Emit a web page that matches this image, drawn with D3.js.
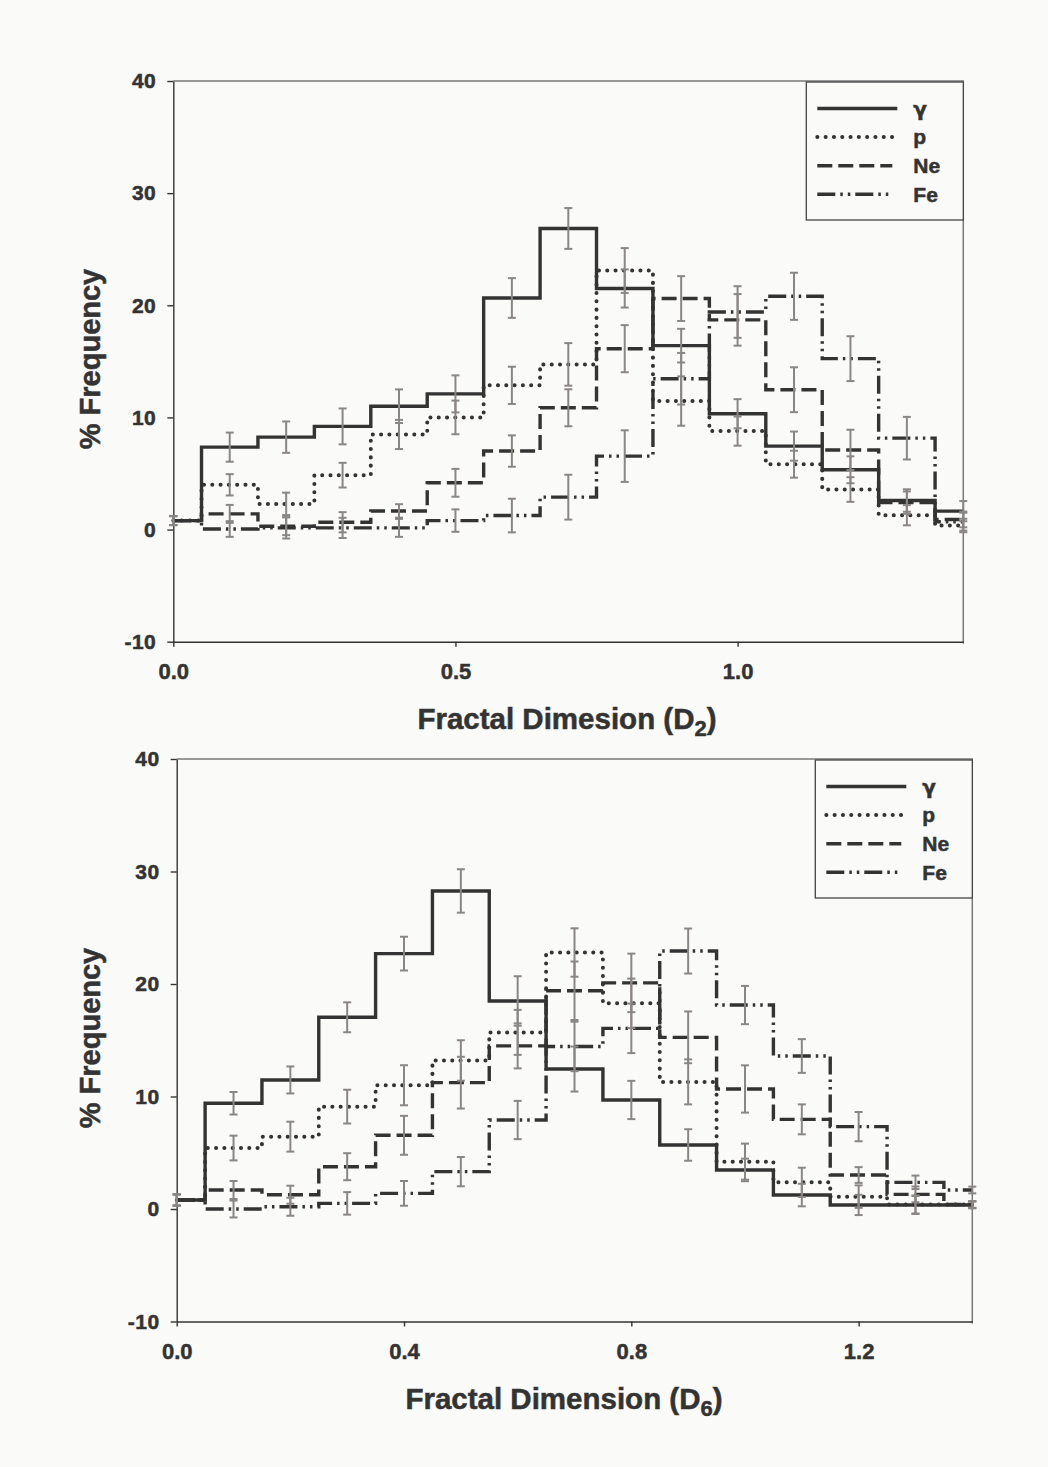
<!DOCTYPE html>
<html>
<head>
<meta charset="utf-8">
<script src="https://cdn.jsdelivr.net/npm/d3@7"></script>
<style>
  body { margin: 0; background: #fafaf8; }
  svg text { font-family: "Liberation Sans", Arial, sans-serif; font-weight: bold; fill: #333; stroke: #333; stroke-width: 0.5px; }
</style>
</head>
<body>
<script>
// bin centres shared by both panels
var bins = [0.0, 0.1, 0.2, 0.3, 0.4, 0.5, 0.6, 0.7, 0.8, 0.9, 1.0, 1.1, 1.2, 1.3, 1.4];
var names = ["γ", "p", "Ne", "Fe"];
var yTicks = [-10, 0, 10, 20, 30, 40];

// D2 panel
var d2Gamma    = [0.8, 7.35, 8.24, 9.2, 11.0, 12.1, 20.65, 26.85, 21.5, 16.4, 10.33, 7.44, 5.33, 2.59, 1.64];
var d2GammaErr = [0.4, 1.3, 1.4, 1.6, 1.5, 1.65, 1.77, 1.82, 1.7, 1.5, 1.3, 1.3, 1.2, 1.0, 0.9];
var d2P        = [0.8, 3.99, 2.29, 4.85, 8.48, 10.0, 12.86, 14.73, 23.1, 11.46, 8.78, 5.83, 3.57, 1.28, 0.36];
var d2PErr     = [0.4, 0.95, 1.0, 1.1, 1.3, 1.5, 1.66, 1.9, 2.0, 2.2, 1.3, 1.2, 1.1, 0.9, 0.6];
var d2Ne       = [0.8, 1.4, 0.3, 0.65, 1.66, 4.17, 7.0, 10.86, 16.13, 20.6, 18.7, 12.47, 7.1, 2.4, 0.9];
var d2NeErr    = [0.4, 0.8, 0.8, 0.9, 0.6, 1.24, 1.4, 1.65, 2.1, 2.0, 2.3, 2.0, 1.8, 1.0, 0.7];
var d2Fe       = [0.8, 0.05, 0.15, 0.15, 0.15, 0.8, 1.25, 2.89, 6.55, 13.45, 19.4, 20.8, 15.24, 8.15, 0.7];
var d2FeErr    = [0.4, 0.7, 0.95, 0.9, 0.8, 1.0, 1.5, 2.0, 2.3, 2.3, 2.3, 2.1, 2.0, 1.9, 0.8];

// D6 panel
var d6Gamma    = [0.8, 9.4, 11.47, 17.04, 22.7, 28.27, 18.49, 12.44, 9.69, 5.69, 3.47, 1.24, 0.36, 0.36, 0.36];
var d6GammaErr = [0.5, 1.0, 1.2, 1.33, 1.5, 1.93, 2.2, 2.0, 1.7, 1.4, 1.0, 1.0, 0.9, 0.8, 0.3];
var d6P        = [0.8, 5.42, 6.43, 9.1, 11.0, 13.2, 15.7, 22.8, 18.28, 11.3, 4.21, 2.37, 1.1, 0.4, 0.4];
var d6PErr     = [0.5, 1.1, 1.33, 1.5, 1.78, 1.8, 2.0, 2.15, 2.2, 2.0, 1.6, 1.3, 1.0, 0.8, 0.3];
var d6Ne       = [0.8, 1.69, 1.27, 3.76, 6.55, 11.23, 14.5, 19.4, 20.1, 15.26, 10.67, 7.97, 3.02, 1.3, 0.4];
var d6NeErr    = [0.5, 0.8, 0.8, 1.2, 1.73, 2.3, 2.0, 2.6, 2.6, 2.3, 2.1, 1.33, 0.7, 0.7, 0.3];
var d6Fe       = [0.8, 0.0, 0.2, 0.5, 1.39, 3.32, 7.91, 14.45, 16.06, 22.93, 18.13, 13.6, 7.32, 2.37, 1.69];
var d6FeErr    = [0.5, 0.75, 0.8, 1.0, 1.1, 1.3, 1.7, 2.2, 2.2, 2.0, 1.7, 1.5, 1.3, 0.6, 0.3];

var lineStyles = [
  {dash: null, cap: "butt", width: 3.4},
  {dash: "0.1 8.2", cap: "round", width: 4},
  {dash: "15 6", cap: "butt", width: 3.4},
  {dash: "18 5 2.5 5 2.5 5", cap: "butt", width: 3.4}
];
var ink = "#333", errColor = "#8a8684", bg = "#fafaf8";

var svg = d3.select("body").append("svg")
    .attr("width", 1048)
    .attr("height", 1467);

function drawPanel(p) {
  var g = svg.append("g");
  var x = d3.scaleLinear().domain([0, 1.4]).range([p.left, p.right]);
  var y = d3.scaleLinear().domain([-10, 40]).range([p.bottom, p.top]);

  // grey top / right frame
  g.append("path")
    .attr("d", "M" + p.left + "," + p.top + "H" + p.right + "V" + (p.bottom + 2))
    .attr("fill", "none").attr("stroke", "#7a7a7a").attr("stroke-width", 1.5);

  var yAxis = d3.axisLeft(y).tickValues(yTicks).tickSize(6).tickSizeOuter(0).tickPadding(11)
    .tickFormat(function (d) { return String(d); });
  var xAxis = d3.axisBottom(x).tickValues(p.xTicks).tickSize(5).tickSizeOuter(0).tickPadding(17)
    .tickFormat(d3.format(".1f"));

  var ya = g.append("g").attr("transform", "translate(" + p.left + ",0)").call(yAxis);
  var xa = g.append("g").attr("transform", "translate(0," + p.bottom + ")").call(xAxis);
  [ya, xa].forEach(function (a) {
    a.selectAll("path, line").attr("stroke", ink).attr("stroke-width", 1.4);
    a.selectAll("text").attr("fill", ink).attr("font-family", null);
  });
  ya.selectAll("text").style("font-size", "21px").attr("letter-spacing", "0.5px");
  xa.selectAll("text").style("font-size", "22px");

  // step histograms
  var line = d3.line()
    .curve(d3.curveStep)
    .x(function (d, i) { return x(bins[i]); })
    .y(function (d) { return y(d); });

  p.series.forEach(function (s, k) {
    var st = lineStyles[k];
    g.append("path")
      .attr("d", line(s.values))
      .attr("fill", "none")
      .attr("stroke", ink)
      .attr("stroke-width", st.width)
      .attr("stroke-linecap", st.cap)
      .attr("stroke-dasharray", st.dash);
  });

  // error bars on top
  var eb = g.append("g").attr("stroke", errColor).attr("stroke-width", 2);
  p.series.forEach(function (s) {
    bins.forEach(function (b, i) {
      var cx = x(b), y0 = y(s.values[i] - s.err[i]), y1 = y(s.values[i] + s.err[i]);
      eb.append("line").attr("x1", cx).attr("x2", cx).attr("y1", y0).attr("y2", y1);
      eb.append("line").attr("x1", cx - 4).attr("x2", cx + 4).attr("y1", y0).attr("y2", y0);
      eb.append("line").attr("x1", cx - 4).attr("x2", cx + 4).attr("y1", y1).attr("y2", y1);
    });
  });

  // legend
  var lx = p.right - 157, ly = p.top + 1;
  var lg = g.append("g").attr("transform", "translate(" + lx + "," + ly + ")");
  lg.append("rect").attr("width", 157).attr("height", 138)
    .attr("fill", bg).attr("stroke", "#444").attr("stroke-width", 1.3);
  names.forEach(function (n, k) {
    var st = lineStyles[k], ry = 26.5 + k * 28.6;
    lg.append("line").attr("x1", 11).attr("x2", k < 2 ? 91 : 86).attr("y1", ry).attr("y2", ry)
      .attr("stroke", ink).attr("stroke-width", st.width)
      .attr("stroke-linecap", st.cap).attr("stroke-dasharray", st.dash);
    var lt = lg.append("text").attr("x", 107).attr("y", ry).attr("dy", "0.35em")
      .style("font-size", "21px").text(n);
    if (k === 0) lt.style("font-family", "'DejaVu Sans', sans-serif").style("font-size", "20px");
  });

  // axis titles
  svg.append("text")
    .attr("transform", "translate(100," + p.yLabelY + ") rotate(-90)")
    .attr("text-anchor", "middle")
    .style("font-size", "29px")
    .text("% Frequency");

  var t = svg.append("text")
    .attr("x", p.titleX).attr("y", p.titleY)
    .attr("text-anchor", "middle")
    .style("font-size", "29.5px");
  t.append("tspan").text(p.title);
  t.append("tspan").attr("dy", 7).style("font-size", "22px").text(p.sub);
  t.append("tspan").attr("dy", -7).text(")");
}

drawPanel({
  left: 173.3, right: 963.3, top: 81, bottom: 641.7,
  xTicks: [0, 0.5, 1.0],
  yLabelY: 359, titleX: 567, titleY: 729,
  title: "Fractal Dimesion (D", sub: "2",
  series: [
    {values: d2Gamma, err: d2GammaErr},
    {values: d2P, err: d2PErr},
    {values: d2Ne, err: d2NeErr},
    {values: d2Fe, err: d2FeErr}
  ]
});

drawPanel({
  left: 176.7, right: 972.3, top: 759, bottom: 1321.5,
  xTicks: [0, 0.4, 0.8, 1.2],
  yLabelY: 1038, titleX: 564, titleY: 1409,
  title: "Fractal Dimension (D", sub: "6",
  series: [
    {values: d6Gamma, err: d6GammaErr},
    {values: d6P, err: d6PErr},
    {values: d6Ne, err: d6NeErr},
    {values: d6Fe, err: d6FeErr}
  ]
});
</script>
</body>
</html>
